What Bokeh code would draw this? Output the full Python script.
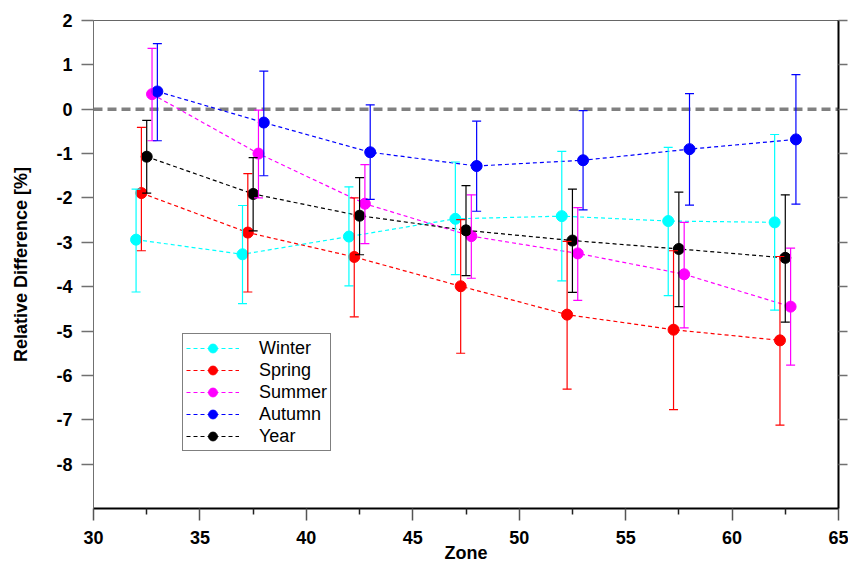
from bokeh.plotting import figure
from bokeh.models import (ColumnDataSource, Range1d, FixedTicker, LinearAxis,
                          Whisker, Span, TeeHead)
from bokeh.transform import dodge
from bokeh.embed import file_html
from bokeh.resources import INLINE

# ---------------- data ----------------
zones = [32, 37, 42, 47, 52, 57, 62]

x_ticks = [30, 35, 40, 45, 50, 55, 60, 65]
x_minor_ticks = [32.5, 37.5, 42.5, 47.5, 52.5, 57.5, 62.5]
y_ticks = [2, 1, 0, -1, -2, -3, -4, -5, -6, -7, -8]

winter_mean = [-2.94, -3.27, -2.87, -2.47, -2.41, -2.52, -2.55]
winter_upper = [-1.80, -2.17, -1.75, -1.19, -0.95, -0.86, -0.57]
winter_lower = [-4.12, -4.38, -3.98, -3.73, -3.87, -4.20, -4.53]

spring_mean = [-1.89, -2.78, -3.33, -3.99, -4.63, -4.97, -5.21]
spring_upper = [-0.41, -1.45, -2.00, -2.49, -2.98, -3.19, -3.32]
spring_lower = [-3.19, -4.12, -4.68, -5.50, -6.31, -6.77, -7.12]

summer_mean = [0.34, -1.00, -2.13, -2.86, -3.25, -3.72, -4.45]
summer_upper = [1.37, -0.02, -1.25, -1.93, -2.22, -2.55, -3.13]
summer_lower = [-0.71, -2.00, -3.03, -3.81, -4.31, -4.93, -5.77]

autumn_mean = [0.40, -0.30, -0.97, -1.28, -1.15, -0.90, -0.68]
autumn_upper = [1.48, 0.86, 0.10, -0.27, -0.03, 0.35, 0.78]
autumn_lower = [-0.71, -1.50, -2.03, -2.30, -2.27, -2.16, -2.14]

year_mean = [-1.07, -1.91, -2.40, -2.73, -2.96, -3.15, -3.35]
year_upper = [-0.25, -1.09, -1.54, -1.72, -1.80, -1.87, -1.93]
year_lower = [-1.89, -2.74, -3.28, -3.75, -4.13, -4.45, -4.80]

series_names = ["Winter", "Spring", "Summer", "Autumn", "Year"]
series_mean = [winter_mean, spring_mean, summer_mean, autumn_mean, year_mean]
series_upper = [winter_upper, spring_upper, summer_upper, autumn_upper, year_upper]
series_lower = [winter_lower, spring_lower, summer_lower, autumn_lower, year_lower]
series_shift = [0.0, 0.25, 0.75, 1.0, 0.5]   # zone offset of each series
series_colors = ["#00FFFF", "#FF0000", "#FF00FF", "#0000FF", "#000000"]

FONT = "Liberation Sans"

# ---------------- figure ----------------
p = figure(width=848, height=568, output_backend="svg", toolbar_location=None,
           x_range=Range1d(30, 65), y_range=Range1d(-9, 2),
           min_border_left=93, min_border_right=10, min_border_top=20,
           min_border_bottom=60, background_fill_color="white",
           border_fill_color="white")
p.xgrid.visible = False
p.ygrid.visible = False
p.outline_line_color = "#666666"
p.outline_line_width = 1

# zero reference line
p.add_layout(Span(location=0, dimension="width", line_color="#808080",
                  line_width=3.5, line_dash="9 5", level="underlay"))

for name, mean, up, lo, shift, col in zip(series_names, series_mean, series_upper,
                                          series_lower, series_shift, series_colors):
    src = ColumnDataSource(dict(zone=zones, mean=mean, upper=up, lower=lo))
    xs = dodge("zone", shift)
    w = Whisker(base=xs, upper="upper", lower="lower", source=src,
                line_color=col, line_width=1.2,
                upper_head=TeeHead(size=9, line_color=col, line_width=1.2),
                lower_head=TeeHead(size=9, line_color=col, line_width=1.2),
                level="glyph")
    p.add_layout(w)
    p.line(x=xs, y="mean", source=src, line_color=col, line_width=1.2,
           line_dash="4 3", legend_label=name)
    p.scatter(x=xs, y="mean", source=src, size=11, fill_color=col,
              line_color=col, legend_label=name)

# ---------------- axes ----------------
xa = p.xaxis[0]
xa.ticker = FixedTicker(ticks=x_ticks, minor_ticks=x_minor_ticks)
xa.axis_line_color = "black"
xa.axis_line_width = 2
xa.major_tick_line_color = "#555555"
xa.major_tick_line_width = 1.5
xa.major_tick_out = 12
xa.major_tick_in = 0
xa.minor_tick_line_color = "#222222"
xa.minor_tick_line_width = 1.5
xa.minor_tick_out = 6
xa.minor_tick_in = 0
xa.major_label_text_font = FONT
xa.major_label_text_font_style = "bold"
xa.major_label_text_font_size = "18px"
xa.major_label_text_color = "black"
xa.major_label_standoff = 10
xa.axis_label = "Zone"
xa.axis_label_text_font = FONT
xa.axis_label_text_font_style = "bold"
xa.axis_label_text_font_size = "18px"
xa.axis_label_text_color = "black"
xa.axis_label_standoff = -4

ya = p.yaxis[0]
ya.ticker = FixedTicker(ticks=y_ticks, minor_ticks=[])
ya.major_label_overrides = {t: str(t) for t in y_ticks}
ya.axis_line_color = "#707070"
ya.axis_line_width = 1
ya.major_tick_line_color = "#707070"
ya.major_tick_line_width = 1.5
ya.major_tick_out = 12
ya.major_tick_in = 0
ya.minor_tick_line_color = None
ya.major_label_text_font = FONT
ya.major_label_text_font_style = "bold"
ya.major_label_text_font_size = "18px"
ya.major_label_text_color = "black"
ya.major_label_standoff = 9
ya.axis_label = "Relative Difference [%]"
ya.axis_label_text_font = FONT
ya.axis_label_text_font_style = "bold"
ya.axis_label_text_font_size = "18px"
ya.axis_label_text_color = "black"
ya.axis_label_standoff = 22

ra = LinearAxis(ticker=FixedTicker(ticks=y_ticks, minor_ticks=[]))
ra.axis_line_color = "black"
ra.axis_line_width = 2
ra.major_tick_line_color = "#707070"
ra.major_tick_line_width = 1.5
ra.major_tick_out = 9
ra.major_tick_in = 0
ra.minor_tick_line_color = None
ra.major_label_text_font_size = "1px"
ra.major_label_text_color = None
ra.major_label_standoff = 0
p.add_layout(ra, "right")

# ---------------- legend ----------------
lg = p.legend[0]
lg.location = (89, 57)
lg.label_text_font = FONT
lg.label_text_font_size = "18px"
lg.label_text_color = "black"
lg.glyph_width = 53
lg.glyph_height = 22
lg.label_height = 22
lg.label_standoff = 20
lg.spacing = 0
lg.padding = 3
lg.margin = 0
lg.border_line_color = "black"
lg.border_line_width = 1
lg.background_fill_color = "white"
lg.background_fill_alpha = 1.0

open("out.html", "w").write(file_html(p, INLINE))
